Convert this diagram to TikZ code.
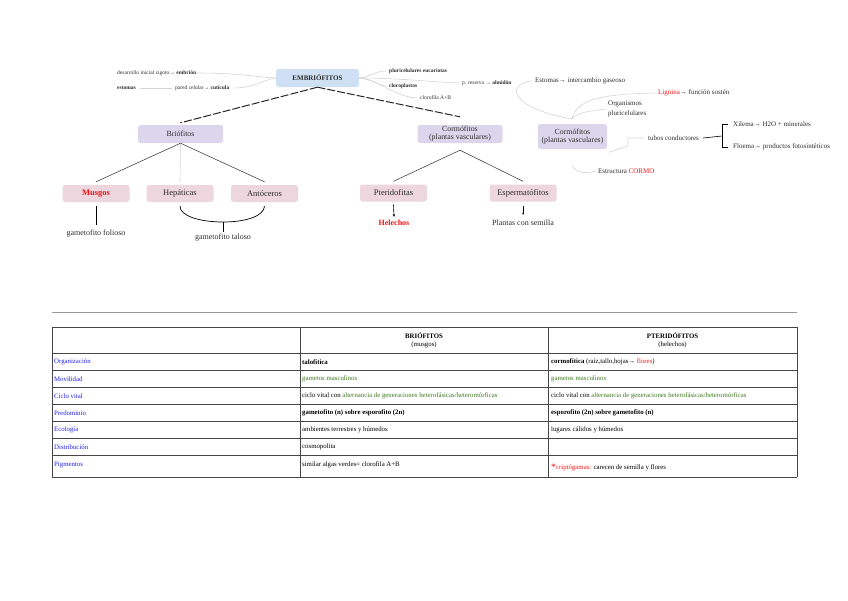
\documentclass[tikz,border=0pt]{standalone}
\usepackage{fontspec}
\setmainfont{Liberation Serif}
\usetikzlibrary{arrows.meta}
\definecolor{embblue}{RGB}{207,224,244}
\definecolor{lavbox}{RGB}{220,214,236}
\definecolor{pinkbox}{RGB}{237,214,222}
\definecolor{tblue}{RGB}{30,30,235}
\definecolor{tgreen}{RGB}{60,120,30}
\definecolor{tred}{RGB}{240,20,20}
\definecolor{lgray}{RGB}{212,212,212}
\definecolor{dgray}{RGB}{70,70,70}
\definecolor{txt}{RGB}{45,45,45}
\begin{document}
\begin{tikzpicture}[x=1pt,y=-1pt,
  tx/.style={inner sep=0pt, anchor=west, text=txt},
  sml/.style={tx, font=\fontsize{5.5}{6.5}\selectfont},
  mdl/.style={tx, font=\fontsize{7}{8}\selectfont},
  cell/.style={inner sep=0pt, anchor=west, font=\fontsize{6.8}{8}\selectfont},
  hcell/.style={inner sep=0pt, align=center, font=\fontsize{6.8}{8}\selectfont},
  boxE/.style={fill=embblue, rounded corners=2.5pt, minimum width=83pt, minimum height=18pt, inner sep=0pt, text=txt, font=\bfseries\fontsize{7}{8}\selectfont},
  boxL/.style={fill=lavbox, rounded corners=2.5pt, minimum width=85pt, minimum height=18pt, inner sep=0pt, text=txt, align=center, font=\fontsize{7.8}{8}\selectfont},
  boxP/.style={fill=pinkbox, rounded corners=2.5pt, minimum width=67pt, minimum height=17pt, inner sep=0pt, text=txt, font=\fontsize{8.5}{9}\selectfont},
  soft/.style={draw=lgray, line width=0.6pt},
  hard/.style={draw=dgray, line width=0.6pt},
  dsh/.style={draw=black!85, line width=1pt, dash pattern=on 8pt off 2pt},
  grid/.style={draw=dgray, line width=1pt}
]
\useasboundingbox (0,0) rectangle (848,600);

% ---------- top concept map ----------
\node[boxE] (emb) at (317.5,78) {EMBRIÓFITOS};

\node[sml] (des) at (117,73) {desarrollo inicial zigoto→ \textbf{embrión}};
\node[sml] (est) at (117,88) {\textbf{estomas}};
\node[sml] (par) at (175,88) {pared celular→ \textbf{cutícula}};
\draw[soft] (des.east) .. controls (240,73) and (255,77) .. (emb.west);
\draw[soft] ([xshift=4pt]par.east) .. controls (255,88) and (262,80) .. (emb.west);
\draw[soft] ([xshift=4pt]est.east) -- ([xshift=-3pt]par.west);

\node[sml] (plu) at (389,71) {\textbf{pluricelulares eucariotas}};
\node[sml] (clp) at (389,86) {\textbf{cloroplastos}};
\node[sml] (clf) at (420,98) {clorofila A+B};
\node[sml] (res) at (462,83) {p. reserva → \textbf{almidón}};
\draw[soft] (emb.east) .. controls (370,77) and (375,71) .. ([xshift=-3pt]plu.west);
\draw[soft] (emb.east) .. controls (372,79) and (378,85) .. ([xshift=-3pt]clp.west);
\draw[soft] (emb.east) .. controls (380,80) and (395,97) .. ([xshift=-3pt]clf.west);
\draw[soft] (emb.east) .. controls (400,78) and (430,82) .. ([xshift=-3pt]res.west);

\node[boxL] (brio) at (180.5,134) {Briófitos};
\node[boxL] (corm) at (460,134) {Cormófitos\\(plantas vasculares)};
\draw[dsh] (emb.south) -- ([yshift=2pt]brio.north);
\draw[dsh] (emb.south) -- ([yshift=8pt]corm.north);

\node[boxP] (mus) at (96,193.5) {\textbf{\color{tred}Musgos}};
\node[boxP] (hep) at (180,193.5) {Hepáticas};
\node[boxP] (ant) at (264.5,193.5) {Antóceros};
\draw[hard] (brio.south) -- ([yshift=3pt]mus.north);
\draw[soft] (brio.south) -- ([yshift=3pt]hep.north);
\draw[hard] (brio.south) -- ([yshift=3pt]ant.north);

\node[tx, anchor=center, font=\fontsize{8}{9}\selectfont] (gfol) at (96,233.5) {gametofito folioso};
\node[tx, anchor=center, font=\fontsize{8}{9}\selectfont] (gtal) at (223,237.5) {gametofito taloso};
\draw[black, line width=0.7pt] ([yshift=-4pt]mus.south) -- ([yshift=5pt]gfol.north);
\coordinate (bmid) at (223,222);
\draw[black, line width=0.7pt] ([yshift=-4pt]hep.south) .. controls (180,216) and (200,222) .. (bmid)
      .. controls (246,222) and (264,216) .. ([yshift=-4pt]ant.south);
\draw[black, line width=0.7pt] (bmid) -- ([yshift=2pt]gtal.north);

\node[boxP] (pte) at (393.5,193) {Pteridofitas};
\node[boxP] (esp) at (523,193) {Espermatófitos};
\draw[hard] ([yshift=-7pt]corm.south) -- ([yshift=3pt]pte.north);
\draw[hard] ([yshift=-7pt]corm.south) -- ([yshift=3pt]esp.north);
\node[tx, anchor=center, text=tred, font=\bfseries\fontsize{8}{9}\selectfont] (hel) at (394,223) {Helechos};
\node[tx, anchor=center, font=\fontsize{8}{9}\selectfont] (pcs) at (523,223) {Plantas con semilla};
\draw[black, line width=0.6pt, -{Stealth[length=3pt,width=2.4pt]}] ([yshift=-3pt]pte.south) -- ([yshift=3pt]hel.north);
\draw[black, line width=0.4pt, -{Stealth[length=2pt,width=1.6pt]}] ([yshift=-4pt]esp.south) -- ([yshift=5pt]pcs.north);

% right cluster
\node[boxL, minimum width=69pt, minimum height=25pt] (corm2) at (572.5,136.5) {Cormófitos\\(plantas vasculares)};
\node[mdl] (esto) at (535,81) {Estomas→ intercambio gaseoso};
\node[mdl] (lig) at (658,93) {{\color{tred}Lignina}→ función sostén};
\node[mdl, align=left, font=\fontsize{7}{9.5}\selectfont] (org) at (608,109) {Organismos\\pluricelulares};
\coordinate (ctop) at (572,119);
\draw[soft] ([xshift=-3pt]esto.west) .. controls (505,84) and (510,108) .. (ctop);
\draw[soft] ([xshift=-3pt]lig.west) .. controls (600,94) and (576,100) .. (ctop);
\draw[soft] ([xshift=-2pt]org.west) .. controls (588,111) and (576,113) .. (ctop);

\node[mdl] (tub) at (648,138) {tubos conductores};
\draw[soft] ([xshift=2pt,yshift=-3pt]corm2.south east) -- (628,146) -- (628,138) -- ([xshift=-4pt]tub.west);
\node[mdl] (xil) at (733,124) {Xilema→ H2O + minerales};
\node[mdl] (flo) at (733,147) {Floema→ productos fotosintéticos};
\coordinate (brk) at (722,136);
\draw[black, line width=0.6pt] ([xshift=4pt]tub.east) -- (brk);
\draw[black, line width=0.6pt] ([xshift=-5pt]xil.west) -- (722,124) -- (722,147) -- ([xshift=-5pt]flo.west);

\node[mdl] (cormo) at (598,171) {Estructura {\color{tred}CORMO}};
\draw[soft] (572,166) .. controls (577,173) and (586,174) .. ([xshift=-2pt]cormo.west);

% ---------- separator ----------
\draw[draw=gray!80, line width=0.7pt] (52,312) -- (797,312);

% ---------- table ----------
\foreach \yy in {327,353,370,387,404,421,438,455,477}
  \draw[grid] (52,\yy) -- (797,\yy);
\foreach \xx in {52,300,548,797}
  \draw[grid] (\xx,327) -- (\xx,477);

\node[hcell] (hb) at (424,340) {\textbf{BRIÓFITOS}\\(musgos)};
\node[hcell] (hp) at (672.5,340) {\textbf{PTERIDÓFITOS}\\(helechos)};

\node[cell, text=tblue] (r1) at (54,362) {Organización};
\node[cell, text=tblue] (r2) at (54,379) {Movilidad};
\node[cell, text=tblue] (r3) at (54,396) {Ciclo vital};
\node[cell, text=tblue] (r4) at (54,413) {Predominio};
\node[cell, text=tblue] (r5) at (54,430) {Ecología};
\node[cell, text=tblue] (r6) at (54,447) {Distribución};
\node[cell, text=tblue] (r7) at (54,465) {Pigmentos};

\node[cell] (b1) at (302,362) {\textbf{talofítica}};
\node[cell, text=tgreen] (b2) at (302,379) {gametos masculinos};
\node[cell] (b3) at (302,396) {ciclo vital con {\color{tgreen}alternancia de generaciones heterofásicas/heteromórficas}};
\node[cell] (b4) at (302,413) {\textbf{gametofito (n) sobre esporofito (2n)}};
\node[cell] (b5) at (302,430) {ambientes terrestres y húmedos};
\node[cell] (b6) at (302,447) {cosmopolita};
\node[cell] (b7) at (302,465) {similar algas verdes= clorofila A+B};

\node[cell] (p1) at (551,362) {\textbf{cormofítica} (raíz,tallo,hojas→ {\color{tred}flores})};
\node[cell, text=tgreen] (p2) at (551,379) {gametos masculinos};
\node[cell] (p3) at (551,396) {ciclo vital con {\color{tgreen}alternancia de generaciones heterofásicas/heteromórficas}};
\node[cell] (p4) at (551,413) {\textbf{esporofito (2n) sobre gametofito (n)}};
\node[cell] (p5) at (551,430) {lugares cálidos y húmedos};
\node[cell] (p7) at (551,467) {{\color{tred}\fontsize{10}{10}\selectfont\raisebox{-1pt}{*}\fontsize{6.8}{8}\selectfont criptógamas:} carecen de semilla y flores};
\end{tikzpicture}
\end{document}
